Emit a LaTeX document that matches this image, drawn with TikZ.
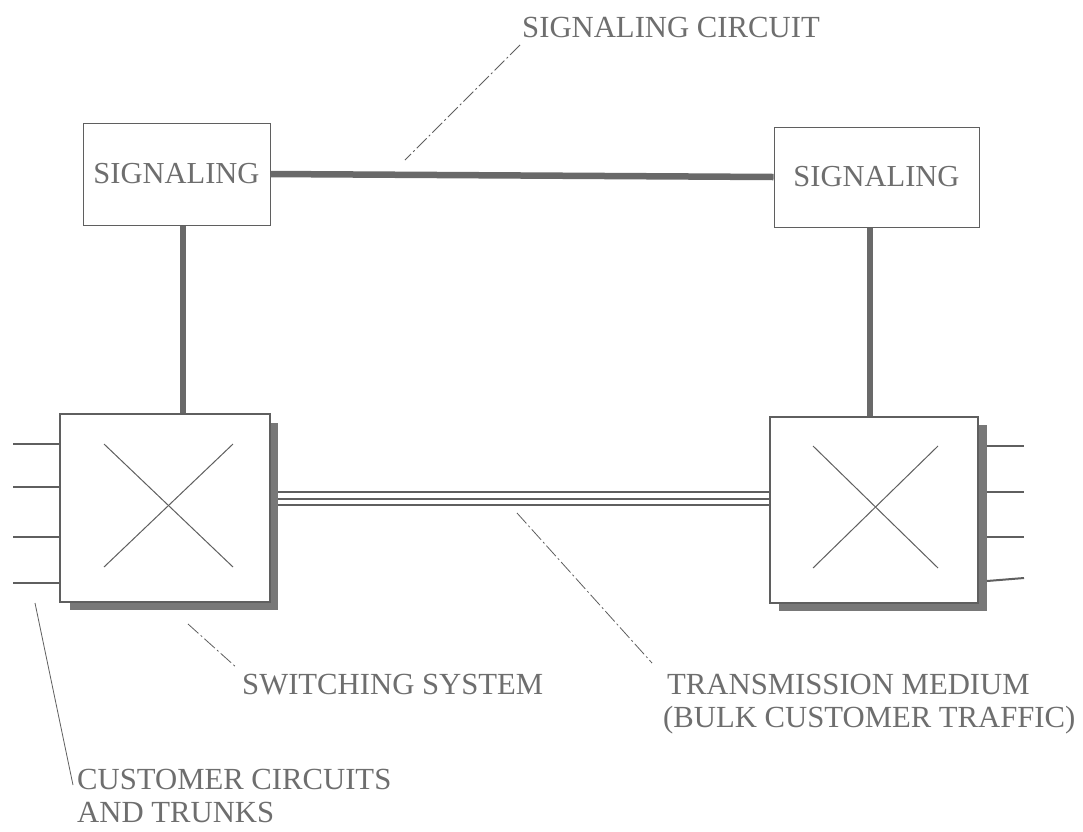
\documentclass[tikz,border=0pt]{standalone}
\usepackage{fontspec}
\setmainfont{Liberation Serif}
\definecolor{linegray}{RGB}{95,95,95}
\definecolor{thickgray}{RGB}{105,105,105}
\definecolor{shadowgray}{RGB}{120,120,120}
\definecolor{textgray}{RGB}{110,110,110}
\begin{document}
\begin{tikzpicture}[x=1pt,y=-1pt,
  sigbox/.style={draw=linegray, line width=1pt, fill=white, inner sep=0pt, text=textgray, font=\fontsize{30.5}{34}\selectfont},
  swbox/.style={draw=linegray, line width=1.3pt, fill=white, inner sep=0pt},
  shade/.style={fill=shadowgray, draw=none},
  heavy/.style={draw=thickgray, line width=6.5pt},
  cross/.style={draw=linegray, line width=1pt},
  trunk/.style={draw=linegray, line width=2pt},
  medium/.style={draw=linegray, line width=1.1pt},
  leader/.style={draw=linegray, line width=0.8pt, dash pattern=on 14pt off 3pt on 2pt off 3pt},
  leadersolid/.style={draw=linegray, line width=0.8pt},
  lbl/.style={text=textgray, font=\fontsize{30.7}{34}\selectfont, inner sep=0pt, anchor=base west}]
\useasboundingbox[fill=white] (0,0) rectangle (1083,831);

% shadows of switching systems
\fill[shade] (70,423) rectangle (278,610);
\fill[shade] (779,425) rectangle (987,611);

% nodes
\node[sigbox, minimum width=187pt, minimum height=102pt] (lsig) at (176.5,174) {SIGNALING};
\node[sigbox, minimum width=205pt, minimum height=100pt] (rsig) at (876.5,177) {SIGNALING};
\node[swbox, minimum width=210pt, minimum height=188pt] (lsw) at (165,508) {};
\node[swbox, minimum width=208pt, minimum height=186pt] (rsw) at (874,510) {};

% crosses
\draw[cross] (104,444) -- (233,567);
\draw[cross] (233,444) -- (104,567);
\draw[cross] (813,446) -- (938,568);
\draw[cross] (938,446) -- (813,568);

% signaling links
\coordinate (lv) at (183,0);
\coordinate (rv) at (870,0);
\draw[heavy] (lsig.east) -- (rsig.west);
\draw[heavy] (lsig.south -| lv) -- (lsw.north -| lv);
\draw[heavy] (rsig.south -| rv) -- (rsw.north -| rv);

% transmission medium (bulk traffic)
\coordinate (tm1) at (278,492);
\coordinate (tm2) at (278,499);
\coordinate (tm3) at (278,505);
\draw[medium] (tm1) -- (rsw.west |- tm1);
\draw[medium] (tm2) -- (rsw.west |- tm2);
\draw[medium] (tm3) -- (rsw.west |- tm3);

% customer circuits and trunks
\coordinate (cl1) at (13,444);
\coordinate (cl2) at (13,487);
\coordinate (cl3) at (13,537);
\coordinate (cl4) at (13,583);
\foreach \c in {cl1,cl2,cl3,cl4} \draw[trunk] (\c) -- (lsw.west |- \c);
\coordinate (cr1a) at (987,446); \coordinate (cr1b) at (1024,446);
\coordinate (cr2a) at (987,492); \coordinate (cr2b) at (1024,492);
\coordinate (cr3a) at (987,537); \coordinate (cr3b) at (1024,537);
\coordinate (cr4a) at (987,581); \coordinate (cr4b) at (1024,578);
\draw[trunk] (cr1a) -- (cr1b);
\draw[trunk] (cr2a) -- (cr2b);
\draw[trunk] (cr3a) -- (cr3b);
\draw[trunk] (cr4a) -- (cr4b);

% labels
\node[lbl] (lcirc) at (522,37) {SIGNALING CIRCUIT};
\node[lbl] (lswitch) at (242,694) {SWITCHING SYSTEM};
\node[lbl] (ltm1) at (667,694) {TRANSMISSION MEDIUM};
\node[lbl] (ltm2) at (663,727) {(BULK CUSTOMER TRAFFIC)};
\node[lbl] (lcust1) at (77,789) {CUSTOMER CIRCUITS};
\node[lbl] (lcust2) at (77,822) {AND TRUNKS};

% leader lines
\coordinate (a1) at (520,45);  \coordinate (a2) at (405,160);
\coordinate (b1) at (188,624); \coordinate (b2) at (237,668);
\coordinate (c1) at (517,513); \coordinate (c2) at (652,663);
\coordinate (d1) at (35,603);  \coordinate (d2) at (73,785);
\draw[leader] (a1) -- (a2);
\draw[leader] (b1) -- (b2);
\draw[leader] (c1) -- (c2);
\draw[leadersolid] (d1) -- (d2);
\end{tikzpicture}
\end{document}
